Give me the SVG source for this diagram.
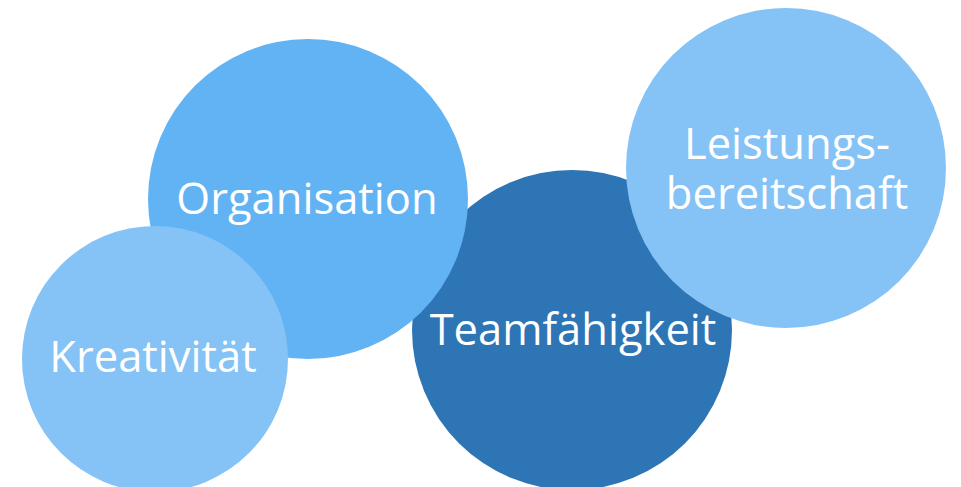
<svg xmlns="http://www.w3.org/2000/svg" width="961" height="487" viewBox="0 0 961 487">
<style>
.lbl{font-family:"Open Sans","Noto Sans",sans-serif;font-size:43.5px;fill:#FFFFFF;text-anchor:middle}
.light{fill:#85C3F6}
.mid{fill:#62B3F4}
.dark{fill:#2E75B6}
</style>
<rect width="961" height="487" fill="#FFFFFF"/>
<g id="connectors"></g>
<g id="teamfaehigkeit">
<circle class="dark" cx="572" cy="330" r="160"/>
<text class="lbl" x="573" y="345">Teamfähigkeit</text>
</g>
<g id="organisation">
<circle class="mid" cx="308" cy="199" r="160"/>
<text class="lbl" x="307" y="214">Organisation</text>
</g>
<g id="kreativitaet">
<circle class="light" cx="155" cy="359" r="133"/>
<text class="lbl" x="153" y="372">Kreativität</text>
</g>
<g id="leistungsbereitschaft">
<circle class="light" cx="786" cy="168" r="160"/>
<text class="lbl" x="787" y="159">Leistungs-</text>
<text class="lbl" x="787" y="209">bereitschaft</text>
</g>
</svg>
